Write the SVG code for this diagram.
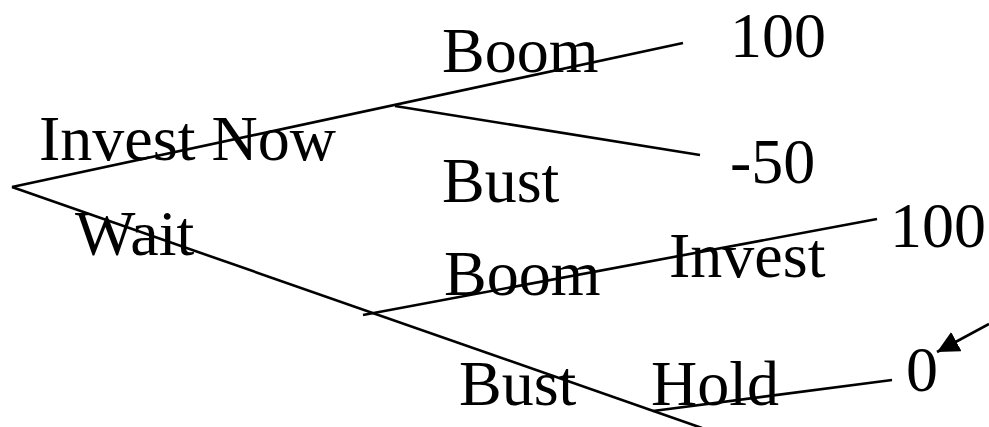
<svg xmlns="http://www.w3.org/2000/svg" width="989" height="427" viewBox="0 0 989 427">
<defs>
<style>
.t{font-family:"Liberation Serif","Times New Roman",serif;font-size:64px;fill:#000}
.c line{stroke:#000;stroke-width:2.6;fill:none}
</style>
<marker id="ah" markerUnits="userSpaceOnUse" markerWidth="26" markerHeight="26" refX="22" refY="11" orient="auto">
<path d="M0,0 L22,11 L0,22 Z" fill="#000"/>
</marker>
</defs>
<rect width="989" height="427" fill="#fff"/>
<g id="connectors" class="c">
<line x1="12" y1="187" x2="683" y2="43"/>
<line x1="395" y1="106" x2="700" y2="155"/>
<line x1="12" y1="187" x2="702" y2="428"/>
<line x1="363" y1="315" x2="877" y2="219"/>
<line x1="653" y1="411" x2="892" y2="380"/>
<line x1="989" y1="324" x2="937" y2="352" marker-end="url(#ah)"/>
</g>
<g id="invest-now"><text class="t" x="39" y="160">Invest Now</text></g>
<g id="wait"><text class="t" x="75" y="255">Wait</text></g>
<g id="boom1"><text class="t" x="442" y="72">Boom</text></g>
<g id="bust1"><text class="t" x="442" y="202">Bust</text></g>
<g id="payoff-100a"><text class="t" x="730" y="57">100</text></g>
<g id="payoff-m50"><text class="t" x="730" y="183">-50</text></g>
<g id="boom2"><text class="t" x="444" y="295">Boom</text></g>
<g id="invest2"><text class="t" x="669" y="277">Invest</text></g>
<g id="payoff-100b"><text class="t" x="890" y="247">100</text></g>
<g id="bust2"><text class="t" x="459" y="405">Bust</text></g>
<g id="hold"><text class="t" x="651" y="405">Hold</text></g>
<g id="payoff-0"><text class="t" x="906" y="391">0</text></g>
</svg>
